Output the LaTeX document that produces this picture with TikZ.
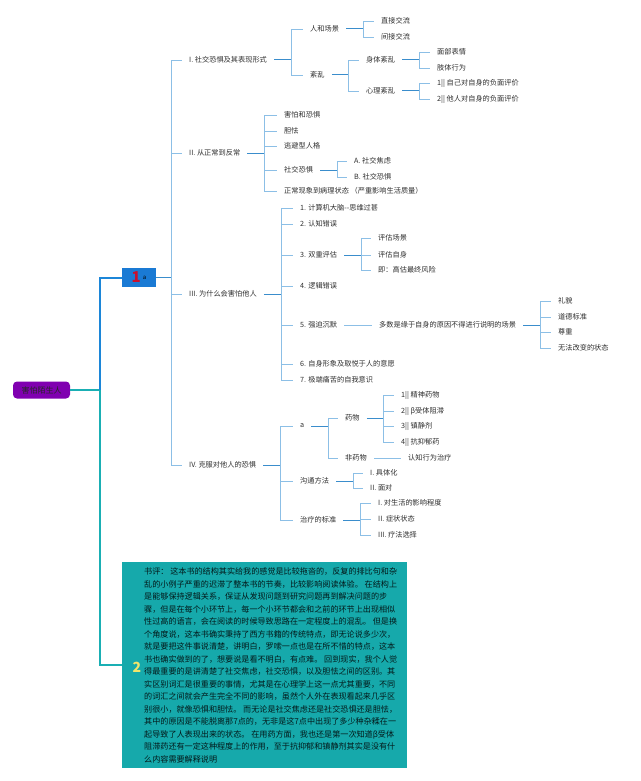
\documentclass[tikz,border=0pt]{standalone}
\usepackage{fontspec}
\newfontfamily\cjk{Noto Sans CJK SC}
\usepackage{tikz}

\definecolor{rootpurple}{HTML}{8000B0}
\definecolor{nodeblue}{HTML}{1A7AD4}
\definecolor{trunkblue}{HTML}{1C86D8}
\definecolor{trunkteal}{HTML}{1AAFB4}
\definecolor{boxteal}{HTML}{16A9AB}
\definecolor{stubblue}{HTML}{3A8DCC}
\definecolor{twigblue}{HTML}{8CBFE6}
\definecolor{leafgray}{HTML}{2E2E2E}
\definecolor{onered}{HTML}{C8102E}
\definecolor{twoyellow}{HTML}{F2E46A}

\tikzset{
  leaf/.style={anchor=west, inner xsep=7pt, inner ysep=1pt, text=leafgray,
    font=\cjk\fontsize{7.2}{8.6}\selectfont},
  stub/.style={draw=stubblue, line width=1pt},
  twig/.style={draw=twigblue, line width=0.8pt},
  rootbox/.style={fill=rootpurple, rounded corners=4pt, minimum width=57pt,
    minimum height=17pt, inner sep=0pt, text=black!85,
    font=\cjk\fontsize{8}{9}\selectfont},
}

\begin{document}
\begin{tikzpicture}[x=1pt,y=-1pt]
    \useasboundingbox (0,0) rectangle (640,781);
    % FIRST LEVEL
    \node[rootbox] (root) at (41.5,390) {害怕陌生人};
    \node[fill=nodeblue, minimum width=34pt, minimum height=19pt, inner sep=0pt] (n1) at (139,277.5)
      {\textcolor{onered}{\cjk\bfseries\fontsize{15}{15}\selectfont 1}\hspace{2pt}\raisebox{3pt}{\cjk\fontsize{6}{6}\selectfont a}};
    \node[fill=boxteal, minimum width=285pt, minimum height=206pt, inner sep=0pt] (review) at (264.5,665) {};
    \node[anchor=north west, inner sep=0pt, align=left, text=black!85!boxteal,
      font=\cjk\fontsize{8.1}{12.5}\selectfont] (reviewtxt) at (144,567.5)
      {书评： 这本书的结构其实给我的感觉是比较拖沓的，反复的排比句和杂\\
       乱的小例子严重的迟滞了整本书的节奏，比较影响阅读体验。 在结构上\\
       是能够保持逻辑关系，保证从发现问题到研究问题再到解决问题的步\\
       骤，但是在每个小环节上，每一个小环节都会和之前的环节上出现相似\\
       性过高的语言，会在阅读的时候导致思路在一定程度上的混乱。 但是换\\
       个角度说，这本书确实秉持了西方书籍的传统特点，即无论说多少次，\\
       就是要把这件事说清楚，讲明白，罗嗦一点也是在所不惜的特点，这本\\
       书也确实做到的了，想要说是看不明白，有点难。 回到现实，我个人觉\\
       得最重要的是讲清楚了社交焦虑，社交恐惧，以及胆怯之间的区别。其\\
       实区别词汇是很重要的事情，尤其是在心理学上这一点尤其重要，不同\\
       的词汇之间就会产生完全不同的影响，虽然个人外在表现看起来几乎区\\
       别很小，就像恐惧和胆怯。 而无论是社交焦虑还是社交恐惧还是胆怯，\\
       其中的原因是不能脱离那7点的，无非是这7点中出现了多少种杂糅在一\\
       起导致了人表现出来的状态。 在用药方面，我也还是第一次知道β受体\\
       阻滞药还有一定这种程度上的作用，至于抗抑郁和镇静剂其实是没有什\\
       么内容需要解释说明};
    \node[inner sep=0pt, text=twoyellow, font=\cjk\bfseries\fontsize{14}{14}\selectfont] (num2) at (137,667) {2};
    % trunk lines
    \draw[draw=trunkteal, line width=2pt] (root.east) -- (100,390) coordinate (trunk);
    \draw[draw=trunkblue, line width=2pt] (trunk) |- (n1.west);
    \draw[draw=trunkteal, line width=2pt] (trunk) |- (review.west);
    % SECOND LEVEL
    \node[leaf] (I) at (182,60) {I. 社交恐惧及其表现形式};
    \node[leaf] (II) at (182,153) {II. 从正常到反常};
    \node[leaf] (III) at (182,294) {III. 为什么会害怕他人};
    \node[leaf] (IV) at (182,465) {IV. 克服对他人的恐惧};
    \draw[stub] (n1.east) -- ++(15,0) coordinate (n1br);
    \draw[twig] (n1br) |- (I.west);
    \draw[twig] (n1br) |- (II.west);
    \draw[twig] (n1br) |- (III.west);
    \draw[twig] (n1br) |- (IV.west);
    % THIRD LEVEL
    % social fear and its forms
    \node[leaf] (Ia) at (303,29) {人和场景};
    \node[leaf] (Ib) at (303,75) {紊乱};
    \draw[stub] (I.east) -- ++(17,0) coordinate (Ibr);
    \draw[twig] (Ibr) |- (Ia.west);
    \draw[twig] (Ibr) |- (Ib.west);
    \node[leaf] (Ia1) at (374,21) {直接交流};
    \node[leaf] (Ia2) at (374,37) {间接交流};
    \draw[stub] (Ia.east) -- ++(17,0) coordinate (Iabr);
    \draw[twig] (Iabr) |- (Ia1.west);
    \draw[twig] (Iabr) |- (Ia2.west);
    \node[leaf] (Ib1) at (359,60) {身体紊乱};
    \node[leaf] (Ib2) at (359,91) {心理紊乱};
    \draw[stub] (Ib.east) -- ++(17,0) coordinate (Ibbr);
    \draw[twig] (Ibbr) |- (Ib1.west);
    \draw[twig] (Ibbr) |- (Ib2.west);
    \node[leaf] (Ib1a) at (430,52) {面部表情};
    \node[leaf] (Ib1b) at (430,68) {肢体行为};
    \draw[stub] (Ib1.east) -- ++(17,0) coordinate (Ib1br);
    \draw[twig] (Ib1br) |- (Ib1a.west);
    \draw[twig] (Ib1br) |- (Ib1b.west);
    \node[leaf] (Ib2a) at (430,83) {1|| 自己对自身的负面评价};
    \node[leaf] (Ib2b) at (430,99) {2|| 他人对自身的负面评价};
    \draw[stub] (Ib2.east) -- ++(17,0) coordinate (Ib2br);
    \draw[twig] (Ib2br) |- (Ib2a.west);
    \draw[twig] (Ib2br) |- (Ib2b.west);
    % normal to abnormal
    \node[leaf] (IIa) at (277,115) {害怕和恐惧};
    \node[leaf] (IIb) at (277,131) {胆怯};
    \node[leaf] (IIc) at (277,146) {逃避型人格};
    \node[leaf] (IId) at (277,170) {社交恐惧};
    \node[leaf] (IIe) at (277,191) {正常现象到病理状态 （严重影响生活质量）};
    \draw[stub] (II.east) -- ++(17,0) coordinate (IIbr);
    \draw[twig] (IIbr) |- (IIa.west);
    \draw[twig] (IIbr) |- (IIb.west);
    \draw[twig] (IIbr) |- (IIc.west);
    \draw[twig] (IIbr) |- (IId.west);
    \draw[twig] (IIbr) |- (IIe.west);
    \node[leaf] (IId1) at (347,161) {A. 社交焦虑};
    \node[leaf] (IId2) at (347,177) {B. 社交恐惧};
    \draw[stub] (IId.east) -- ++(17,0) coordinate (IIdbr);
    \draw[twig] (IIdbr) |- (IId1.west);
    \draw[twig] (IIdbr) |- (IId2.west);
    % why fear others
    \node[leaf] (III1) at (293,208) {1. 计算机大脑--思维过甚};
    \node[leaf] (III2) at (293,224) {2. 认知错误};
    \node[leaf] (III3) at (293,255) {3. 双重评估};
    \node[leaf] (III4) at (293,286) {4. 逻辑错误};
    \node[leaf] (III5) at (293,325) {5. 强迫沉默};
    \node[leaf] (III6) at (293,364) {6. 自身形象及取悦于人的意愿};
    \node[leaf] (III7) at (293,380) {7. 极端痛苦的自我意识};
    \draw[stub] (III.east) -- ++(17,0) coordinate (IIIbr);
    \draw[twig] (IIIbr) |- (III1.west);
    \draw[twig] (IIIbr) |- (III2.west);
    \draw[twig] (IIIbr) |- (III3.west);
    \draw[twig] (IIIbr) |- (III4.west);
    \draw[twig] (IIIbr) |- (III5.west);
    \draw[twig] (IIIbr) |- (III6.west);
    \draw[twig] (IIIbr) |- (III7.west);
    \node[leaf] (III3a) at (371,238) {评估场景};
    \node[leaf] (III3b) at (371,255) {评估自身};
    \node[leaf] (III3c) at (371,270) {即：高估最终风险};
    \draw[stub] (III3.east) -- ++(17,0) coordinate (III3br);
    \draw[twig] (III3br) |- (III3a.west);
    \draw[twig] (III3br) |- (III3b.west);
    \draw[twig] (III3br) |- (III3c.west);
    \node[leaf] (III5a) at (372,325) {多数是缘于自身的原因不得进行说明的场景};
    \draw[twig] (III5.east) -- (III5a.west);
    \node[leaf] (III5a1) at (551,301) {礼貌};
    \node[leaf] (III5a2) at (551,317) {道德标准};
    \node[leaf] (III5a3) at (551,332) {尊重};
    \node[leaf] (III5a4) at (551,348) {无法改变的状态};
    \draw[stub] (III5a.east) -- ++(17,0) coordinate (III5abr);
    \draw[twig] (III5abr) |- (III5a1.west);
    \draw[twig] (III5abr) |- (III5a2.west);
    \draw[twig] (III5abr) |- (III5a3.west);
    \draw[twig] (III5abr) |- (III5a4.west);
    % overcoming the fear
    \node[leaf] (IVa) at (293,426) {a};
    \node[leaf] (IVb) at (293,481) {沟通方法};
    \node[leaf] (IVc) at (293,520) {治疗的标准};
    \draw[stub] (IV.east) -- ++(17,0) coordinate (IVbr);
    \draw[twig] (IVbr) |- (IVa.west);
    \draw[twig] (IVbr) |- (IVb.west);
    \draw[twig] (IVbr) |- (IVc.west);
    \node[leaf] (IVa1) at (338,418) {药物};
    \node[leaf] (IVa2) at (338,458) {非药物};
    \draw[stub] (IVa.east) -- ++(17,0) coordinate (IVabr);
    \draw[twig] (IVabr) |- (IVa1.west);
    \draw[twig] (IVabr) |- (IVa2.west);
    \node[leaf] (IVa1a) at (394,395) {1|| 精神药物};
    \node[leaf] (IVa1b) at (394,411) {2|| β受体阻滞};
    \node[leaf] (IVa1c) at (394,426) {3|| 镇静剂};
    \node[leaf] (IVa1d) at (394,442) {4|| 抗抑郁药};
    \draw[stub] (IVa1.east) -- ++(17,0) coordinate (IVa1br);
    \draw[twig] (IVa1br) |- (IVa1a.west);
    \draw[twig] (IVa1br) |- (IVa1b.west);
    \draw[twig] (IVa1br) |- (IVa1c.west);
    \draw[twig] (IVa1br) |- (IVa1d.west);
    \node[leaf] (IVa2a) at (401,458) {认知行为治疗};
    \draw[twig] (IVa2.east) -- (IVa2a.west);
    \node[leaf] (IVb1) at (363,473) {I. 具体化};
    \node[leaf] (IVb2) at (363,488) {II. 面对};
    \draw[stub] (IVb.east) -- ++(17,0) coordinate (IVbbr);
    \draw[twig] (IVbbr) |- (IVb1.west);
    \draw[twig] (IVbbr) |- (IVb2.west);
    \node[leaf] (IVc1) at (371,503) {I. 对生活的影响程度};
    \node[leaf] (IVc2) at (371,519) {II. 症状状态};
    \node[leaf] (IVc3) at (371,535) {III. 疗法选择};
    \draw[stub] (IVc.east) -- ++(17,0) coordinate (IVcbr);
    \draw[twig] (IVcbr) |- (IVc1.west);
    \draw[twig] (IVcbr) |- (IVc2.west);
    \draw[twig] (IVcbr) |- (IVc3.west);
\end{tikzpicture}
\end{document}
